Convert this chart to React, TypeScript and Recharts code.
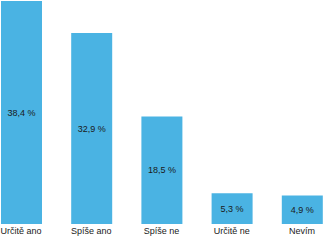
import React from 'react'
import { BarChart, Bar, XAxis, YAxis, LabelList } from 'recharts'

const categories = ['Určitě ano', 'Spíše ano', 'Spíše ne', 'Určitě ne', 'Nevím']
const values = [38.4, 32.9, 18.5, 5.3, 4.9]

const data = categories.map((name, i) => ({ name, value: values[i] }))

// non-breaking space so the label stays on one line
const fmt = (v: any) => `${String(v).replace('.', ',')}\u00a0%`

const font = '"Liberation Sans", Arial, sans-serif'

const App = () => {
  return (
    <div style={{ position: 'fixed', left: 0, top: 0, width: 325, height: 241, overflow: 'hidden', background: '#fff' }}>
      <div style={{ position: 'absolute', left: -13.6, top: 0 }}>
        <BarChart width={351} height={241} data={data}
          margin={{ top: 1, right: 0, left: 0, bottom: 0 }}
          barCategoryGap={0}>
          <XAxis dataKey="name" axisLine={false} tickLine={false} tickSize={0} tickMargin={4} height={17}
            interval={0}
            tick={{ fontSize: 9, fill: '#1a1a1a', fontFamily: font }} />
          <YAxis hide domain={[0, 38.4]} />
          <Bar dataKey="value" fill="#4ab3e3" barSize={41} isAnimationActive={false}>
            <LabelList dataKey="value" position="center" formatter={fmt}
              style={{ fontSize: 9, fill: '#1a1a1a', fontFamily: font }} />
          </Bar>
        </BarChart>
      </div>
    </div>
  )
}

export default App
